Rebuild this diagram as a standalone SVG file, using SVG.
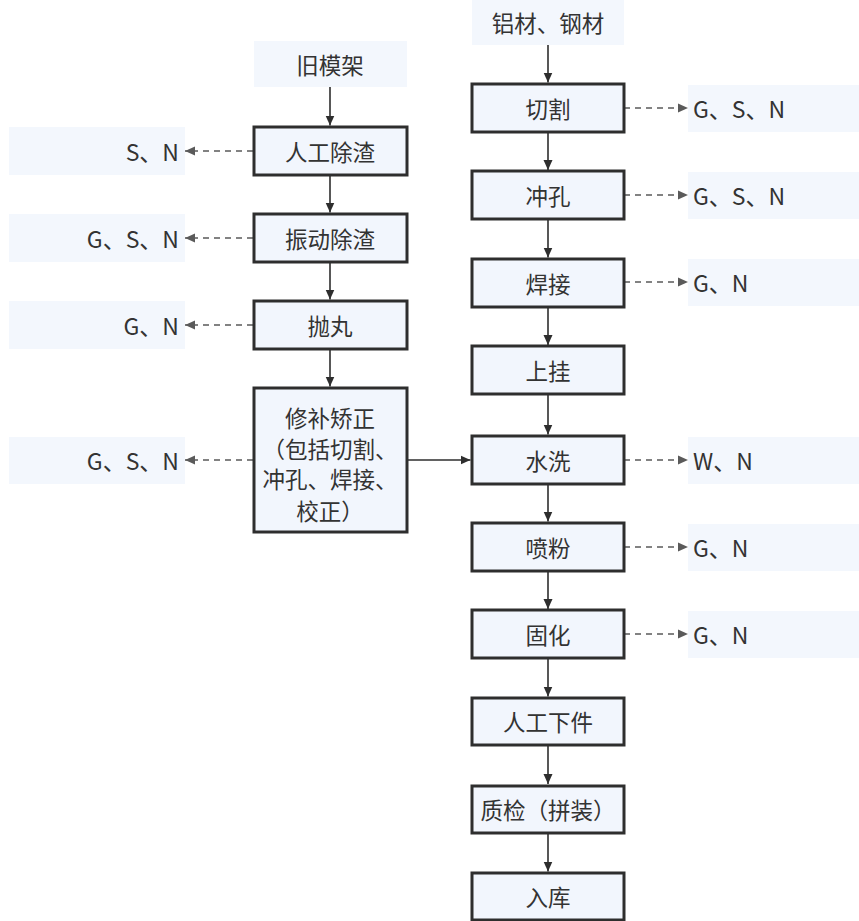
<svg xmlns="http://www.w3.org/2000/svg" width="859" height="921" viewBox="0 0 859 921">
<defs>
<style>
.bg{fill:#f3f7fd;stroke:none}
.nd{fill:#f2f6fd;stroke:#2e2e2e;stroke-width:3}
.t{font-family:"Noto Sans CJK SC","Microsoft YaHei",sans-serif;font-size:22.5px;fill:#333333;dominant-baseline:central}
.o{font-size:23px}
.c{text-anchor:middle}
.r{text-anchor:end}
.l{text-anchor:start}
.sl{stroke:#2e2e2e;stroke-width:1.6;fill:none}
.dl{stroke:#5a5a5a;stroke-width:1.6;fill:none;stroke-dasharray:6 5}
</style>
<marker id="ah" viewBox="0 0 10 10" refX="10" refY="5" markerWidth="10" markerHeight="10" markerUnits="userSpaceOnUse" orient="auto">
<path d="M0,0.5 L10,5 L0,9.5 z" fill="#2e2e2e"/>
</marker>
<marker id="ag" viewBox="0 0 10 10" refX="10" refY="5" markerWidth="10" markerHeight="10" markerUnits="userSpaceOnUse" orient="auto">
<path d="M0,0.5 L10,5 L0,9.5 z" fill="#5a5a5a"/>
</marker>
</defs>
<rect width="859" height="921" fill="#ffffff"/>

<g id="connectors">
<line class="sl" x1="548" y1="45" x2="548" y2="82.5" marker-end="url(#ah)"/>
<line class="sl" x1="548" y1="132" x2="548" y2="170" marker-end="url(#ah)"/>
<line class="sl" x1="548" y1="219" x2="548" y2="257.5" marker-end="url(#ah)"/>
<line class="sl" x1="548" y1="307" x2="548" y2="345" marker-end="url(#ah)"/>
<line class="sl" x1="548" y1="394" x2="548" y2="434.5" marker-end="url(#ah)"/>
<line class="sl" x1="548" y1="484" x2="548" y2="521.5" marker-end="url(#ah)"/>
<line class="sl" x1="548" y1="571" x2="548" y2="609" marker-end="url(#ah)"/>
<line class="sl" x1="548" y1="658" x2="548" y2="696.5" marker-end="url(#ah)"/>
<line class="sl" x1="548" y1="745" x2="548" y2="784" marker-end="url(#ah)"/>
<line class="sl" x1="548" y1="833" x2="548" y2="871.5" marker-end="url(#ah)"/>

<line class="sl" x1="330" y1="87" x2="330" y2="125.5" marker-end="url(#ah)"/>
<line class="sl" x1="330" y1="175" x2="330" y2="212.5" marker-end="url(#ah)"/>
<line class="sl" x1="330" y1="262" x2="330" y2="299.5" marker-end="url(#ah)"/>
<line class="sl" x1="330" y1="349" x2="330" y2="386.5" marker-end="url(#ah)"/>
<line class="sl" x1="407" y1="460" x2="470.5" y2="460" marker-end="url(#ah)"/>

<line class="dl" x1="624" y1="108" x2="688" y2="108" marker-end="url(#ag)"/>
<line class="dl" x1="624" y1="195" x2="688" y2="195" marker-end="url(#ag)"/>
<line class="dl" x1="624" y1="282" x2="688" y2="282" marker-end="url(#ag)"/>
<line class="dl" x1="624" y1="460" x2="688" y2="460" marker-end="url(#ag)"/>
<line class="dl" x1="624" y1="547" x2="688" y2="547" marker-end="url(#ag)"/>
<line class="dl" x1="624" y1="634" x2="688" y2="634" marker-end="url(#ag)"/>

<line class="dl" x1="253" y1="151" x2="185" y2="151" marker-end="url(#ag)"/>
<line class="dl" x1="253" y1="238" x2="185" y2="238" marker-end="url(#ag)"/>
<line class="dl" x1="253" y1="325" x2="185" y2="325" marker-end="url(#ag)"/>
<line class="dl" x1="253" y1="460" x2="185" y2="460" marker-end="url(#ag)"/>
</g>

<g id="src_al"><rect class="bg" x="472" y="-2" width="152" height="47"/><text class="t c" x="548" y="22">铝材、钢材</text></g>
<g id="src_old"><rect class="bg" x="254" y="41" width="153" height="46"/><text class="t c" x="330" y="64">旧模架</text></g>

<g id="n_qiege"><rect class="nd" x="472" y="84" width="152" height="48"/><text class="t c" x="548" y="108">切割</text></g>
<g id="n_chongkong"><rect class="nd" x="472" y="171" width="152" height="48"/><text class="t c" x="548" y="195">冲孔</text></g>
<g id="n_hanjie"><rect class="nd" x="472" y="259" width="152" height="48"/><text class="t c" x="548" y="283">焊接</text></g>
<g id="n_shanggua"><rect class="nd" x="472" y="346" width="152" height="48"/><text class="t c" x="548" y="370">上挂</text></g>
<g id="n_shuixi"><rect class="nd" x="472" y="436" width="152" height="48"/><text class="t c" x="548" y="460">水洗</text></g>
<g id="n_penfen"><rect class="nd" x="472" y="523" width="152" height="48"/><text class="t c" x="548" y="547">喷粉</text></g>
<g id="n_guhua"><rect class="nd" x="472" y="610" width="152" height="48"/><text class="t c" x="548" y="634">固化</text></g>
<g id="n_xiajian"><rect class="nd" x="472" y="698" width="152" height="47"/><text class="t c" x="548" y="721">人工下件</text></g>
<g id="n_zhijian"><rect class="nd" x="472" y="786" width="152" height="47"/><text class="t c" x="548" y="809">质检（拼装）</text></g>
<g id="n_ruku"><rect class="nd" x="472" y="873" width="152" height="47"/><text class="t c" x="548" y="896">入库</text></g>

<g id="n_rengong"><rect class="nd" x="254" y="127" width="153" height="48"/><text class="t c" x="330" y="151">人工除渣</text></g>
<g id="n_zhendong"><rect class="nd" x="254" y="214" width="153" height="48"/><text class="t c" x="330" y="238">振动除渣</text></g>
<g id="n_paowan"><rect class="nd" x="254" y="301" width="153" height="48"/><text class="t c" x="330" y="325">抛丸</text></g>
<g id="n_xiubu"><rect class="nd" x="254" y="388" width="153" height="144"/>
<text class="t c" x="330" y="417">修补矫正</text>
<text class="t c" x="330" y="448">（包括切割、</text>
<text class="t c" x="330" y="478">冲孔、焊接、</text>
<text class="t c" x="330" y="510">校正）</text></g>

<g id="o_qiege"><rect class="bg" x="688" y="85" width="171" height="47"/><text class="t o l" x="693" y="108">G、S、N</text></g>
<g id="o_chongkong"><rect class="bg" x="688" y="172" width="171" height="47"/><text class="t o l" x="693" y="195">G、S、N</text></g>
<g id="o_hanjie"><rect class="bg" x="688" y="259" width="171" height="47"/><text class="t o l" x="693" y="282">G、N</text></g>
<g id="o_shuixi"><rect class="bg" x="688" y="437" width="171" height="47"/><text class="t o l" x="693" y="460">W、N</text></g>
<g id="o_penfen"><rect class="bg" x="688" y="524" width="171" height="47"/><text class="t o l" x="693" y="547">G、N</text></g>
<g id="o_guhua"><rect class="bg" x="688" y="611" width="171" height="47"/><text class="t o l" x="693" y="634">G、N</text></g>

<g id="o_rengong"><rect class="bg" x="9" y="127" width="176" height="48"/><text class="t o r" x="179" y="151">S、N</text></g>
<g id="o_zhendong"><rect class="bg" x="9" y="214" width="176" height="48"/><text class="t o r" x="179" y="238">G、S、N</text></g>
<g id="o_paowan"><rect class="bg" x="9" y="301" width="176" height="48"/><text class="t o r" x="179" y="325">G、N</text></g>
<g id="o_xiubu"><rect class="bg" x="9" y="437" width="176" height="47"/><text class="t o r" x="179" y="460">G、S、N</text></g>
</svg>
